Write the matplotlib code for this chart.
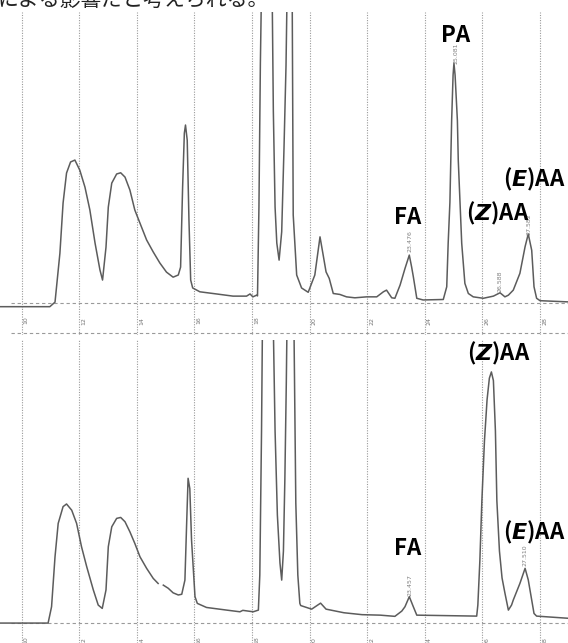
import numpy as np
import matplotlib
matplotlib.use("Agg")
import matplotlib.pyplot as plt

# retention time (min) / detector signal
top_t = [9.25, 10.98, 11.16, 11.33, 11.44, 11.56, 11.70, 11.85, 12.02, 12.20, 12.37, 12.55, 12.72, 12.81,
         12.93, 13.01, 13.13, 13.30, 13.44, 13.59, 13.76, 13.93, 14.11, 14.34, 14.57, 14.80, 15.03, 15.26,
         15.44, 15.52, 15.59, 15.65, 15.69, 15.75, 15.81, 15.87, 15.94, 16.19, 16.77, 17.34, 17.81, 17.93,
         18.03, 18.16, 18.19, 18.24, 18.29, 18.34, 18.52, 18.69, 18.74, 18.80, 18.86, 18.94, 19.03, 19.11,
         19.18, 19.23, 19.30, 19.39, 19.43, 19.55, 19.72, 19.95, 20.18, 20.36, 20.47, 20.57, 20.68, 20.82,
         21.05, 21.28, 21.57, 21.98, 22.33, 22.56, 22.67, 22.85, 22.96, 23.14, 23.31, 23.46, 23.54, 23.60,
         23.72, 23.94, 24.64, 24.76, 24.81, 24.87, 24.93, 24.98, 25.01, 25.05, 25.13, 25.16, 25.28, 25.39,
         25.51, 25.68, 26.03, 26.38, 26.61, 26.78, 26.90, 27.07, 27.30, 27.48, 27.59, 27.71, 27.79, 27.88,
         28.00, 28.97]
top_sig = [-1.5, -1.5, 0.4, 20.8, 41.7, 54.2, 58.8, 59.6, 55.4, 48.3, 38.8, 25.0, 13.8, 9.6,
           23.3, 40.0, 50.0, 53.8, 54.3, 52.5, 47.1, 38.8, 33.3, 26.3, 21.3, 16.7, 12.9, 10.8,
           11.7, 15.0, 48.3, 70.8, 74.2, 67.9, 34.6, 9.6, 6.3, 4.7, 3.8, 2.9, 2.9, 3.8,
           2.6, 3.3, 3.0, 40.0, 100.0, 140.0, 200.0, 140.0, 80.0, 40.0, 25.0, 17.9, 29.7, 64.6,
           99.0, 140.0, 220.0, 140.0, 36.7, 11.7, 6.3, 4.5, 11.7, 27.6, 20.0, 13.0, 10.3, 4.0,
           3.6, 2.6, 2.2, 2.6, 2.6, 4.7, 5.4, 2.2, 2.0, 7.5, 14.4, 20.0, 15.1, 11.0,
           2.0, 1.3, 1.5, 6.8, 25.0, 42.0, 76.0, 95.0, 100.0, 95.0, 76.0, 59.6, 24.9, 8.2,
           4.0, 2.6, 2.0, 2.9, 4.3, 2.6, 3.3, 5.4, 12.4, 23.5, 28.8, 22.0, 6.8, 2.0,
           1.0, 0.5]

# nan = break in the scanned trace
bot_t = [9.25, 10.92, 11.04, 11.16, 11.27, 11.44, 11.56, 11.74, 11.91, 12.08, 12.26, 12.49, 12.66, 12.80,
         12.93, 13.01, 13.13, 13.30, 13.44, 13.59, 13.76, 13.93, 14.11, 14.34, 14.57, 14.74, 14.83, 14.92,
         15.09, 15.26, 15.44, 15.56, 15.67, 15.73, 15.78, 15.84, 15.90, 16.02, 16.10, 16.42, 17.12, 17.58,
         17.68, 18.04, 18.22, 18.27, 18.33, 18.38, 18.52, 18.73, 18.80, 18.88, 18.97, 19.03, 19.09, 19.14,
         19.19, 19.23, 19.33, 19.45, 19.52, 19.59, 19.66, 19.69, 20.07, 20.38, 20.57, 21.19, 21.82, 22.45,
         22.96, 23.20, 23.31, 23.46, 23.60, 23.72, 25.80, 25.84, 25.91, 25.98, 26.07, 26.16, 26.24, 26.31,
         26.38, 26.45, 26.50, 26.59, 26.68, 26.78, 26.90, 27.01, 27.07, 27.30, 27.48, 27.59, 27.71, 27.79,
         27.88, 28.97]
bot_sig = [0.0, 0.0, 6.8, 27.6, 41.5, 48.5, 49.6, 47.0, 41.5, 31.8, 23.5, 13.8, 7.5, 6.1,
           13.8, 31.8, 40.1, 43.6, 44.0, 42.2, 38.0, 33.2, 27.6, 22.8, 18.6, 16.5, np.nan, 15.8,
           14.5, 12.6, 11.7, 12.0, 17.9, 41.5, 60.3, 56.0, 34.6, 11.0, 8.2, 6.5, 5.4, 4.7,
           5.3, 4.7, 5.4, 20.0, 80.0, 150.0, 200.0, 130.0, 80.0, 45.0, 25.0, 17.9, 30.0, 60.0,
           100.0, 140.0, 220.0, 130.0, 50.0, 20.0, 8.2, 7.3, 5.8, 8.3, 5.8, 4.3, 3.5, 3.3,
           2.8, 5.0, 6.8, 11.0, 6.8, 3.3, 2.9, 7.5, 26.0, 51.0, 76.0, 93.0, 102.0, 104.6,
           101.0, 80.0, 51.0, 30.0, 18.8, 12.5, 5.4, 7.5, 9.6, 16.5, 22.8, 18.0, 9.6, 4.0,
           2.9, 2.0]

ticks = [10, 12, 14, 16, 18, 20, 22, 24, 26, 28]
tick_labels = ["10", "12", "14", "16", "18", "20", "22", "24", "26", "28"]

top_peaks = ["FA", "PA", r"($\mathit{Z}$)AA", r"($\mathit{E}$)AA"]
top_rt = ["23.476", "25.081", "26.588", "27.582"]
bot_peaks = ["FA", r"($\mathit{Z}$)AA", r"($\mathit{E}$)AA"]
bot_rt = ["23.457", "27.510"]

plt.rcParams['mathtext.fontset'] = 'custom'
plt.rcParams['mathtext.it'] = 'DejaVu Sans:italic:bold'

W, H = 568, 643
fig = plt.figure(figsize=(W / 100, H / 100), dpi=100)
fig.patch.set_facecolor("white")

ax1 = fig.add_axes([0, 1 - 335 / H, 1, 323 / H])
ax2 = fig.add_axes([0, 0, 1, 303 / H])

trace_col = "#5c5c5c"
grid_col = "#9a9a9a"

for ax, lo, hi in [(ax1, -13.3, 121.3), (ax2, -8.3, 117.9)]:
    ax.set_xlim(9.25, 28.97)
    ax.set_ylim(lo, hi)
    for s in ax.spines.values():
        s.set_visible(False)
    ax.set_xticks([])
    ax.set_yticks([])
    ax.patch.set_alpha(0)
    for t in ticks:
        ax.axvline(t, color=grid_col, lw=0.8, ls=(0, (1, 1.3)), zorder=1)
    ax.axhline(0, xmin=0.02, color=grid_col, lw=0.8, ls=(0, (3, 2.5)), zorder=1)

ax1.axhline(-12.5, xmin=0.02, color=grid_col, lw=0.8, ls=(0, (3, 2.5)), zorder=1)

ax1.plot(top_t, top_sig, color=trace_col, lw=1.1, zorder=3)
ax2.plot(bot_t, bot_sig, color=trace_col, lw=1.1, zorder=3)

for t, lab in zip(ticks, tick_labels):
    ax1.text(t + 0.16, -7.3, lab, rotation=90, fontsize=4.5, color="#777777",
             ha="center", va="center")
    ax2.text(t + 0.16, -7.3, lab, rotation=90, fontsize=4.5, color="#777777",
             ha="center", va="center")

lab_kw = dict(fontsize=16, fontweight="bold", family="Noto Sans CJK JP",
              ha="center", va="center", color="black", zorder=5)
rt_kw = dict(rotation=90, fontsize=4.5, color="#808080", ha="center", va="center", zorder=4)

# labels above the peaks
for (x, y), lab in zip([(23.41, 35.8), (25.08, 111.7), (26.54, 37.5), (27.79, 51.7)], top_peaks):
    ax1.text(x, y, lab, **lab_kw)
for (x, y), lab in zip([(23.48, 25.8), (25.08, 104.0), (26.61, 9.2), (27.62, 33.0)], top_rt):
    ax1.text(x, y, lab, **rt_kw)

for (x, y), lab in zip([(23.41, 31.2), (26.57, 112.5), (27.79, 37.9)], bot_peaks):
    ax2.text(x, y, lab, **lab_kw)
for (x, y), lab in zip([(23.48, 15.8), (27.48, 28.3)], bot_rt):
    ax2.text(x, y, lab, **rt_kw)

fig.text(-0.005, 1.0, "による影響だと考えられる。", fontsize=15, color="#222222",
         family="Noto Sans CJK JP", ha="left", va="center")

fig.savefig("out.png", dpi=100)
plt.close(fig)
